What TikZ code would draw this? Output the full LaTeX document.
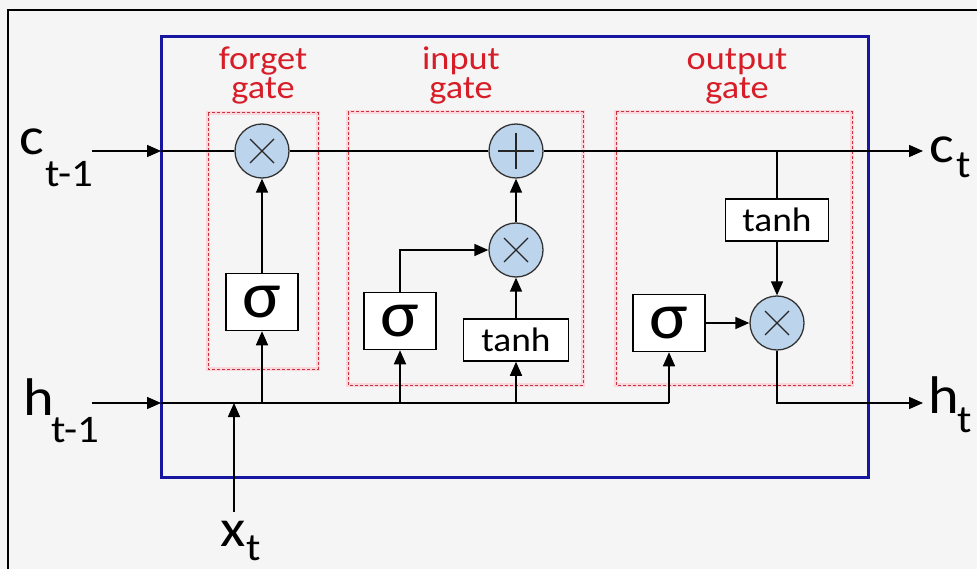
\documentclass[tikz,border=0pt]{standalone}
\usepackage{fontspec}
\setmainfont[FakeStretch=1.1]{Carlito}
\usetikzlibrary{arrows.meta}
\definecolor{bgc}{HTML}{F5F5F5}
\definecolor{frameblue}{RGB}{22,22,160}
\definecolor{cfill}{HTML}{BDD5EC}
\definecolor{dred}{RGB}{200,50,60}
\definecolor{pinkglow}{RGB}{250,215,220}
\definecolor{tred}{RGB}{215,30,40}
\newcommand{\bigfont}{\fontsize{53}{53}\selectfont}
\newcommand{\subfont}{\fontsize{39}{39}\selectfont}
\newcommand{\sigfont}{\fontsize{66}{66}\selectfont}
\newcommand{\tanhfont}{\fontsize{34}{34}\selectfont}
\begin{document}
\begin{tikzpicture}[x=1pt,y=-1pt,
  line/.style={line width=1.5pt,black},
  arr/.style={line,-{Triangle[length=14pt,width=12pt]}},
  circ/.style={circle,draw=black!80,line width=1.3pt,fill=cfill,minimum size=54pt,inner sep=0pt},
  fnbox/.style={draw=black,line width=1.5pt,fill=white,inner sep=0pt},
  sigbox/.style={fnbox,font=\sigfont,minimum width=72pt,minimum height=57pt},
  tanhbox/.style={fnbox,font=\tanhfont,minimum width=105pt,minimum height=42pt},
  dashbox/.style={draw=dred,line width=1pt,dash pattern=on 3pt off 2pt},
  glowbox/.style={draw=pinkglow,line width=4pt},
  glabel/.style={text=tred,font=\fontsize{33}{29}\selectfont,align=center,anchor=base,inner sep=0pt},
  biglab/.style={font=\bigfont,anchor=base west,inner sep=0pt},
  sublab/.style={font=\subfont,anchor=base west,inner sep=0pt},
  symb/.style={draw=black!85,line width=1.2pt}
  ]
\useasboundingbox (0,0) rectangle (977,569);
\fill[bgc] (0,0) rectangle (977,569);
\draw[line width=2pt,black] (8,569) -- (8,10) -- (977,10);

% blue frame
\draw[frameblue,line width=3pt] (161,37) rectangle (868,477);

% gate regions
\foreach \a/\b/\c/\d in {208/113/318/369, 348/112/583/385, 616/112/852/385}{
  \draw[glowbox] (\a,\b) rectangle (\c,\d);
  \draw[dashbox] (\a,\b) rectangle (\c,\d);
}

% gate titles
\node[glabel] (tf) at (263,99) {forget\\gate};
\node[glabel] (ti) at (461,99) {input\\gate};
\node[glabel] (to) at (737,99) {output\\gate};

% operators
\node[circ] (fx) at (262,151) {};
\node[circ] (pl) at (516,151) {};
\node[circ] (ix) at (516,250) {};
\node[circ] (ox) at (777,323) {};
\foreach \n in {fx,ix,ox}{
  \draw[symb] (\n.center) +(-12,-12) -- +(12,12);
  \draw[symb] (\n.center) +(-12,12) -- +(12,-12);
}
\draw[symb] (pl.center) +(-18,0) -- +(18,0);
\draw[symb] (pl.center) +(0,-18) -- +(0,18);

% function boxes
\node[sigbox] (fs) at (262,302) {σ};
\node[sigbox] (is) at (400,321) {σ};
\node[tanhbox] (it) at (516,340) {tanh};
\node[sigbox] (os) at (669,323) {σ};
\node[tanhbox,minimum width=103pt] (ot) at (777,220) {tanh};

% coordinates
\coordinate (cs) at (92,151);
\coordinate (ci) at (161,151);
\coordinate (ce) at (923,151);
\coordinate (cb) at (777,151);
\coordinate (hs) at (92,403);
\coordinate (hi) at (161,403);
\coordinate (hf) at (262,403);
\coordinate (his) at (400,403);
\coordinate (hit) at (516,403);
\coordinate (hos) at (669,403);
\coordinate (he) at (923,403);
\coordinate (xs) at (234,512);
\coordinate (xe) at (234,403);

% cell state line
\draw[arr] (cs) -- (ci);
\draw[line] (ci) -- (fx.west);
\draw[line] (fx.east) -- (pl.west);
\draw[arr] (pl.east) -- (ce);
\draw[line] (cb) -- (ot.north);
\draw[arr] (ot.south) -- (ox.north);

% hidden line
\draw[arr] (hs) -- (hi);
\draw[line] (hi) -- (hos);
\draw[arr] (hos) -- (os.south);
\draw[arr] (hf) -- (fs.south);
\draw[arr] (his) -- (is.south);
\draw[arr] (hit) -- (it.south);
\draw[arr] (xs) -- (xe);

% internal
\draw[arr] (fs.north) -- (fx.south);
\draw[arr] (is.north) |- (ix.west);
\draw[arr] (it.north) -- (ix.south);
\draw[arr] (ix.north) -- (pl.south);
\draw[arr] (os.east) -- (ox.west);
\draw[arr] (ox.south) |- (he);

% labels
\node[biglab] (lc) at (19,155) {c};
\node[sublab] (lct) at (45,187) {t-1};
\node[biglab] (lh) at (23,415) {h};
\node[sublab] (lht) at (51,442) {t-1};
\node[biglab] (rc) at (929,163) {c};
\node[sublab] (rct) at (956,178) {t};
\node[biglab] (rh) at (928,413) {h};
\node[sublab] (rht) at (957,432) {t};
\node[biglab] (lx) at (220,546) {x};
\node[sublab] (lxt) at (246,560) {t};
\end{tikzpicture}
\end{document}
